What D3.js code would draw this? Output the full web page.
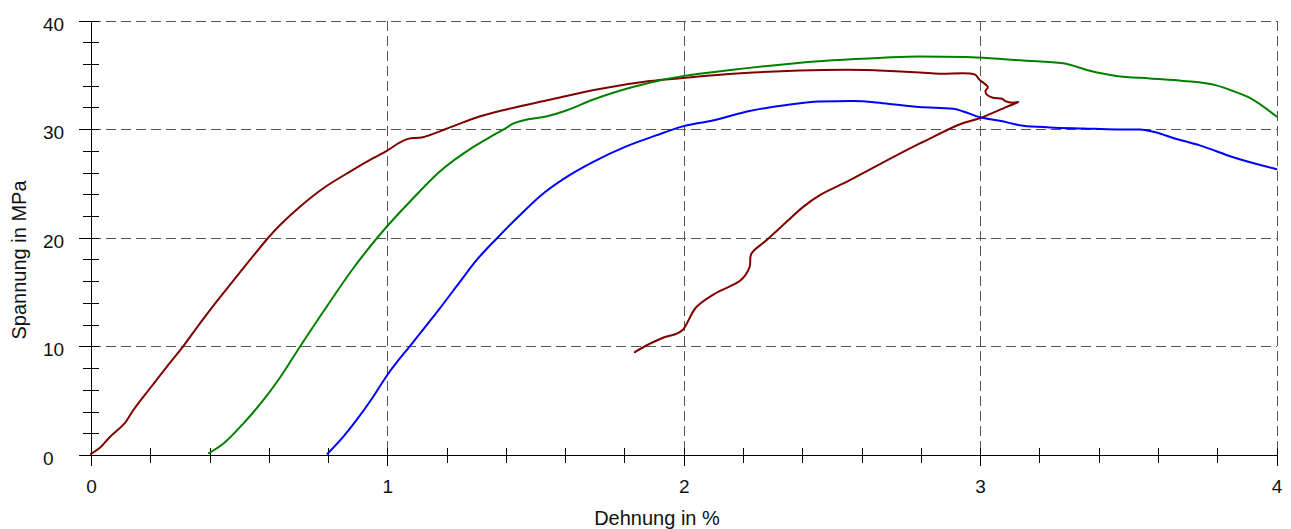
<!DOCTYPE html>
<html>
<head>
<meta charset="utf-8">
<script src="https://cdn.jsdelivr.net/npm/d3@7"></script>
<style>
  html, body { margin: 0; padding: 0; background: #fff; }
  svg { display: block; font-family: "Liberation Sans", Arial, sans-serif; }
</style>
</head>
<body>
<svg id="chart" width="1291" height="529"></svg>
<script>
// Zugversuch: Spannung (MPa) über Dehnung (%), drei Proben
const xTickValues = [0, 1, 2, 3, 4];
const yTickValues = [0, 10, 20, 30, 40];
const xTitle = "Dehnung in %";
const yTitle = "Spannung in MPa";

// Probe 1 (dunkelrot) – [Dehnung, Spannung]
const probeRot = [
  [0, 0.1], [0.03, 0.66], [0.063, 1.64], [0.114, 2.93], [0.142, 4.1], [0.198, 6.1],
  [0.255, 8.1], [0.311, 10.0], [0.367, 12.1], [0.423, 14.1], [0.479, 16.0],
  [0.598, 20.0], [0.638, 21.18], [0.705, 22.86], [0.784, 24.56], [0.874, 26.09], [0.952, 27.32],
  [0.998, 28.0], [1.041, 28.75], [1.07, 29.1], [1.12, 29.26], [1.199, 30.03], [1.289, 30.96],
  [1.379, 31.66], [1.547, 32.7], [1.716, 33.7], [1.885, 34.42], [1.997, 34.7], [2.166, 35.1],
  [2.39, 35.4], [2.615, 35.45], [2.66, 35.4], [2.795, 35.22], [2.863, 35.1], [2.981, 35.04],
  [2.998, 34.55], [3.015, 34.18], [3.026, 33.87], [3.018, 33.5], [3.022, 33.2], [3.043, 32.89],
  [3.074, 32.8], [3.085, 32.58], [3.11, 32.43], [3.129, 32.49], [3.088, 32.03], [2.998, 31.0],
  [2.93, 30.43], [2.818, 28.96], [2.795, 28.66], [2.705, 27.4], [2.559, 25.28], [2.458, 23.9],
  [2.402, 22.82], [2.346, 21.44], [2.278, 19.75], [2.228, 18.52], [2.222, 17.29], [2.194, 16.13],
  [2.104, 14.84], [2.042, 13.6], [1.997, 11.53], [1.975, 11.16], [1.93, 10.79], [1.874, 10.08],
  [1.835, 9.47]
];

// Probe 2 (grün)
const probeGruen = [
  [0.398, 0.17], [0.446, 1.03], [0.513, 2.87], [0.58, 5.0], [0.632, 6.9], [0.705, 9.97],
  [0.795, 13.65], [0.885, 17.19], [0.975, 20.3], [1.087, 23.64], [1.177, 26.09],
  [1.289, 28.34], [1.356, 29.42], [1.4, 30.1], [1.424, 30.5], [1.457, 30.8],
  [1.536, 31.17], [1.604, 31.72], [1.693, 32.7], [1.828, 33.87], [1.918, 34.48], [1.997, 34.88],
  [2.166, 35.47], [2.334, 35.96], [2.503, 36.33], [2.671, 36.57], [2.795, 36.69], [2.954, 36.63],
  [3.033, 36.53], [3.145, 36.31], [3.28, 36.06], [3.37, 35.38], [3.46, 34.9], [3.573, 34.66],
  [3.685, 34.44], [3.797, 34.03], [3.854, 33.5], [3.91, 32.88], [4.0, 31.16]
];

// Probe 3 (blau)
const probeBlau = [
  [0.798, 0.11], [0.85, 1.64], [0.895, 3.18], [0.951, 5.32], [0.998, 7.3],
  [1.087, 10.4], [1.177, 13.5], [1.244, 15.91], [1.3, 17.91], [1.37, 19.96],
  [1.446, 22.05], [1.525, 24.05], [1.604, 25.58], [1.693, 26.96], [1.806, 28.41], [1.907, 29.42],
  [1.997, 30.25], [2.098, 30.8], [2.222, 31.66], [2.334, 32.18], [2.458, 32.55], [2.57, 32.58],
  [2.671, 32.39], [2.795, 32.03], [2.909, 31.88], [2.943, 31.63], [2.999, 31.09], [3.066, 30.78],
  [3.145, 30.31], [3.235, 30.16], [3.348, 30.06], [3.46, 29.97], [3.539, 29.97], [3.595, 29.69],
  [3.651, 29.19], [3.741, 28.5], [3.854, 27.41], [4.0, 26.31]
];

const svg = d3.select("#chart");
const x = d3.scaleLinear().domain([0, 4]).range([91, 1276.5]);
const y = d3.scaleLinear().domain([0, 40]).range([455, 20.5]);

// Gitternetz (gestrichelt)
const grid = svg.append("g").attr("stroke", "#555").attr("stroke-width", 1)
  .attr("stroke-dasharray", "10,5").attr("shape-rendering", "crispEdges");
grid.selectAll("line.h").data(yTickValues.filter(d => d > 0)).join("line")
  .attr("class", "h")
  .attr("x1", x(0)).attr("x2", x(4))
  .attr("y1", d => Math.round(y(d)) + 0.5).attr("y2", d => Math.round(y(d)) + 0.5);
grid.selectAll("line.v").data(xTickValues.filter(d => d > 0)).join("line")
  .attr("class", "v")
  .attr("y1", y(40)).attr("y2", y(0))
  .attr("x1", d => Math.round(x(d)) + 0.5).attr("x2", d => Math.round(x(d)) + 0.5);

const isMajor = (v, step) => Math.abs(v / step - Math.round(v / step)) < 1e-6;

// x-Achse
const xAxis = d3.axisBottom(x)
  .tickValues(d3.range(0, 21).map(i => i * 0.2))
  .tickFormat(d => isMajor(d, 1) ? d3.format("d")(d) : "")
  .tickSizeInner(0).tickSizeOuter(0).tickPadding(0);
const gx = svg.append("g").attr("transform", `translate(0,${y(0)})`).call(xAxis);
gx.select(".domain").attr("stroke", "#000").attr("shape-rendering", "crispEdges");
gx.selectAll(".tick line")
  .attr("stroke", "#000").attr("shape-rendering", "crispEdges")
  .attr("y1", -7).attr("y2", d => isMajor(d, 1) ? 11 : 8);
gx.selectAll(".tick text")
  .attr("y", 38).attr("dy", null)
  .attr("fill", "#111").style("font-size", "19px");

// y-Achse
const yAxis = d3.axisLeft(y)
  .tickValues(d3.range(0, 21).map(i => i * 2))
  .tickFormat(d => isMajor(d, 10) ? d3.format("d")(d) : "")
  .tickSizeInner(0).tickSizeOuter(0).tickPadding(0);
const gy = svg.append("g").attr("transform", `translate(${x(0)},0)`).call(yAxis);
gy.select(".domain").attr("stroke", "#000").attr("shape-rendering", "crispEdges");
gy.selectAll(".tick line")
  .attr("stroke", "#000").attr("shape-rendering", "crispEdges")
  .attr("x1", d => isMajor(d, 10) ? -12 : -8).attr("x2", 8);
gy.selectAll(".tick text")
  .attr("text-anchor", "start").attr("x", 43 - x(0)).attr("dy", "0.5em")
  .attr("fill", "#111").style("font-size", "19px");

svg.selectAll("g").filter(function () { return this.hasAttribute("font-family"); })
  .attr("font-family", null).attr("font-size", null);

// Achsentitel
svg.append("text")
  .attr("x", 657).attr("y", 525)
  .attr("text-anchor", "middle").attr("fill", "#111").style("font-size", "20px")
  .text(xTitle);
svg.append("text")
  .attr("transform", `translate(26,260) rotate(-90)`)
  .attr("text-anchor", "middle").attr("fill", "#111").style("font-size", "20px")
  .text(yTitle);

// Messkurven
const smooth = d3.line().x(d => x(d[0])).y(d => y(d[1])).curve(d3.curveMonotoneX);
const path = d3.line().x(d => x(d[0])).y(d => y(d[1])).curve(d3.curveCatmullRom.alpha(0.5));
const series = [
  { data: probeRot, color: "#800000", gen: path },
  { data: probeGruen, color: "#008000", gen: smooth },
  { data: probeBlau, color: "#0000ff", gen: smooth }
];
svg.append("g").selectAll("path").data(series).join("path")
  .attr("d", s => s.gen(s.data))
  .attr("fill", "none")
  .attr("stroke", s => s.color)
  .attr("stroke-width", 2)
  .attr("stroke-linejoin", "round")
  .attr("stroke-linecap", "round");
</script>
</body>
</html>
